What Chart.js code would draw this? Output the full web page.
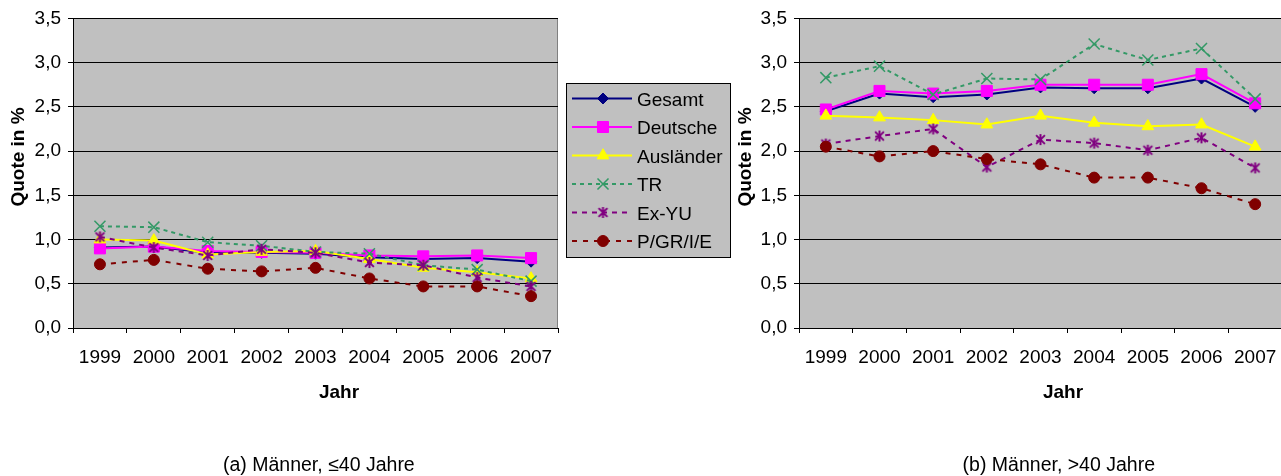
<!DOCTYPE html>
<html><head><meta charset="utf-8">
<script src="https://cdn.jsdelivr.net/npm/chart.js@4.4.1/dist/chart.umd.min.js"></script>
<style>
html,body{margin:0;padding:0;background:#fff;overflow:hidden;width:1281px;height:476px;}
#wrap{position:relative;width:1281px;height:476px;overflow:hidden;}
canvas{position:absolute;top:0;}
#c1{left:0;} #c2{left:725px;}
</style></head><body>
<div id="wrap"><canvas id="c1" width="740" height="476"></canvas><canvas id="c2" width="575" height="476"></canvas></div>
<script>
// ---- data ----
const years = ['1999','2000','2001','2002','2003','2004','2005','2006','2007'];
const seriesNames = ['Gesamt','Deutsche','Ausländer','TR','Ex-YU','P/GR/I/E'];
const yTickLabels = ['0,0','0,5','1,0','1,5','2,0','2,5','3,0','3,5'];
const yTitle = 'Quote in %';
const xTitle = 'Jahr';
const captionA = '(a) Männer, \u226440 Jahre';
const captionB = '(b) Männer, >40 Jahre';

// (a) Männer, <=40 Jahre
const gesamtA     = [0.91, 0.92, 0.85, 0.85, 0.84, 0.80, 0.78, 0.79, 0.75];
const deutscheA   = [0.90, 0.92, 0.87, 0.86, 0.85, 0.82, 0.81, 0.82, 0.79];
const auslaenderA = [1.00, 0.99, 0.83, 0.86, 0.87, 0.78, 0.68, 0.63, 0.56];
const trA         = [1.15, 1.14, 0.97, 0.93, 0.86, 0.84, 0.71, 0.66, 0.53];
const exyuA       = [1.03, 0.91, 0.82, 0.89, 0.85, 0.74, 0.71, 0.57, 0.47];
const pgrA        = [0.72, 0.77, 0.67, 0.64, 0.68, 0.56, 0.47, 0.47, 0.36];

// (b) Männer, >40 Jahre
const gesamtB     = [2.45, 2.65, 2.61, 2.64, 2.72, 2.71, 2.71, 2.82, 2.50];
const deutscheB   = [2.47, 2.68, 2.65, 2.68, 2.75, 2.75, 2.75, 2.87, 2.54];
const auslaenderB = [2.40, 2.38, 2.35, 2.30, 2.40, 2.32, 2.28, 2.30, 2.05];
const trB         = [2.83, 2.96, 2.64, 2.82, 2.81, 3.21, 3.03, 3.16, 2.59];
const exyuB       = [2.08, 2.17, 2.25, 1.82, 2.13, 2.09, 2.01, 2.15, 1.81];
const pgrB        = [2.05, 1.94, 2.00, 1.91, 1.85, 1.70, 1.70, 1.58, 1.40];

// ---- styles ----
const FONT = "'Liberation Sans', Arial, sans-serif";
Chart.defaults.font.family = FONT;
Chart.defaults.color = '#000';

function makeAsterisk(color, size){
  const c = document.createElement('canvas');
  c.width = size; c.height = size;
  const g = c.getContext('2d');
  g.strokeStyle = color; g.lineWidth = 2;
  const m = size/2, a = size/2 - 1;
  g.beginPath();
  g.moveTo(m, m-a); g.lineTo(m, m+a);
  g.moveTo(m-a*0.8, m-a*0.8); g.lineTo(m+a*0.8, m+a*0.8);
  g.moveTo(m+a*0.8, m-a*0.8); g.lineTo(m-a*0.8, m+a*0.8);
  g.stroke();
  return c;
}

const styles = [
  {color:'#000080', dash:[],    pointStyle:'rectRot',  radius:5.5, bw:1},
  {color:'#FF00FF', dash:[],    pointStyle:'rect',     radius:7.8, bw:1},
  {color:'#FFFF00', dash:[],    pointStyle:'triangle', radius:6.8, bw:1},
  {color:'#339966', dash:[4,4], pointStyle:'crossRot', radius:7.8, bw:1.5},
  {color:'#800080', dash:[5,5], pointStyle:makeAsterisk('#800080', 13), radius:6.5, bw:1.5},
  {color:'#800000', dash:[5,6], pointStyle:'circle',   radius:5.5, bw:1},
];

function buildDatasets(valuesList){
  return valuesList.map((vals, i) => {
    const s = styles[i];
    return {
      label: seriesNames[i],
      data: vals,
      borderColor: s.color,
      backgroundColor: s.color,
      borderWidth: 2,
      borderDash: s.dash,
      pointStyle: s.pointStyle,
      pointRadius: s.radius,
      pointBorderWidth: s.bw,
      pointBackgroundColor: s.color,
      pointBorderColor: s.color,
      tension: 0,
      order: 6 - i,
      clip: false
    };
  });
}

const plotBg = {
  id:'plotBg',
  beforeDraw(chart){
    const {ctx, chartArea:a} = chart;
    ctx.save();
    ctx.fillStyle = '#C0C0C0';
    ctx.fillRect(a.left, a.top, a.right - a.left, a.bottom - a.top);
    ctx.strokeStyle = '#808080';
    ctx.lineWidth = 1;
    ctx.strokeRect(Math.round(a.left)+0.5, Math.round(a.top)+0.5, Math.round(a.right-a.left)-1, Math.round(a.bottom-a.top));
    ctx.restore();
  }
};

function textPlugin(cfg){
  return {
    id:'texts',
    afterDraw(chart){
      const ctx = chart.ctx;
      ctx.save();
      ctx.fillStyle = '#000';
      ctx.textBaseline = 'alphabetic';
      ctx.font = "bold 19px " + FONT;
      ctx.save();
      ctx.translate(cfg.yTitleX, cfg.yTitleY);
      ctx.rotate(-Math.PI/2);
      ctx.textAlign = 'center';
      ctx.fillText(yTitle, 0, 0);
      ctx.restore();
      ctx.textAlign = 'center';
      ctx.fillText(xTitle, cfg.xTitleX, 398);
      ctx.font = "19.5px " + FONT;
      ctx.textAlign = cfg.capAlign;
      ctx.fillText(cfg.caption, cfg.capX, 471);
      ctx.restore();
    }
  };
}

const legendPlugin = {
  id:'boxLegend',
  afterDraw(chart){
    const ctx = chart.ctx;
    const L = 566, T = 83, W = 164, H = 174;
    ctx.save();
    ctx.fillStyle = '#C0C0C0';
    ctx.fillRect(L, T, W, H);
    ctx.strokeStyle = '#000';
    ctx.lineWidth = 1;
    ctx.strokeRect(L+0.5, T+0.5, W, H);
    const rowY0 = 98.5, rowH = 28.5;
    seriesNames.forEach((name, i) => {
      const s = styles[i];
      const y = rowY0 + i*rowH;
      ctx.save();
      ctx.strokeStyle = s.color;
      ctx.lineWidth = 2;
      ctx.setLineDash(s.dash);
      ctx.beginPath();
      ctx.moveTo(572, y); ctx.lineTo(632, y);
      ctx.stroke();
      ctx.setLineDash([]);
      ctx.fillStyle = s.color;
      ctx.strokeStyle = s.color;
      ctx.lineWidth = s.bw;
      if (Chart.helpers && Chart.helpers.drawPoint) {
        Chart.helpers.drawPoint(ctx, {pointStyle:s.pointStyle, radius:s.radius, rotation:0, borderWidth:s.bw}, 603, y);
      }
      ctx.restore();
      ctx.fillStyle = '#000';
      ctx.font = "19px " + FONT;
      ctx.textAlign = 'left';
      ctx.textBaseline = 'alphabetic';
      ctx.fillText(name, 637, y + 7);
    });
    ctx.restore();
  }
};

function makeOptions(yWidth, padRight){
  return {
    responsive:false, animation:false, events:[],
    layout:{padding:{left:0, top:16, right:padRight, bottom:108}},
    plugins:{legend:{display:false}, tooltip:{enabled:false}},
    scales:{
      x:{
        type:'category', offset:true,
        grid:{offset:true, drawOnChartArea:false, drawTicks:true, tickLength:5, color:'#000', lineWidth:1},
        border:{display:true, color:'#000', width:1},
        ticks:{color:'#000', font:{size:19}, padding:13, maxRotation:0, autoSkip:false},
        afterFit(s){ s.height = 40; }
      },
      y:{
        min:0, max:3.5,
        ticks:{stepSize:0.5, color:'#000', font:{size:19}, padding:7,
               callback:(v)=> yTickLabels[Math.round(v*2)]},
        grid:{color:'#000', lineWidth:1, tickLength:5, drawTicks:true},
        border:{display:true, color:'#000', width:1},
        afterFit(s){ s.width = yWidth; }
      }
    }
  };
}

new Chart(document.getElementById('c1'), {
  type:'line',
  data:{labels:years, datasets:buildDatasets([gesamtA, deutscheA, auslaenderA, trA, exyuA, pgrA])},
  options:makeOptions(73, 740-558),
  plugins:[plotBg, legendPlugin, textPlugin({yTitleX:23.5, yTitleY:157, xTitleX:339, caption:captionA, capAlign:'left', capX:223})]
});

new Chart(document.getElementById('c2'), {
  type:'line',
  data:{labels:years, datasets:buildDatasets([gesamtB, deutscheB, auslaenderB, trB, exyuB, pgrB])},
  options:makeOptions(74, 575-557),
  plugins:[plotBg, textPlugin({yTitleX:25.5, yTitleY:157, xTitleX:338, caption:captionB, capAlign:'right', capX:430})]
});
</script>
</body></html>
